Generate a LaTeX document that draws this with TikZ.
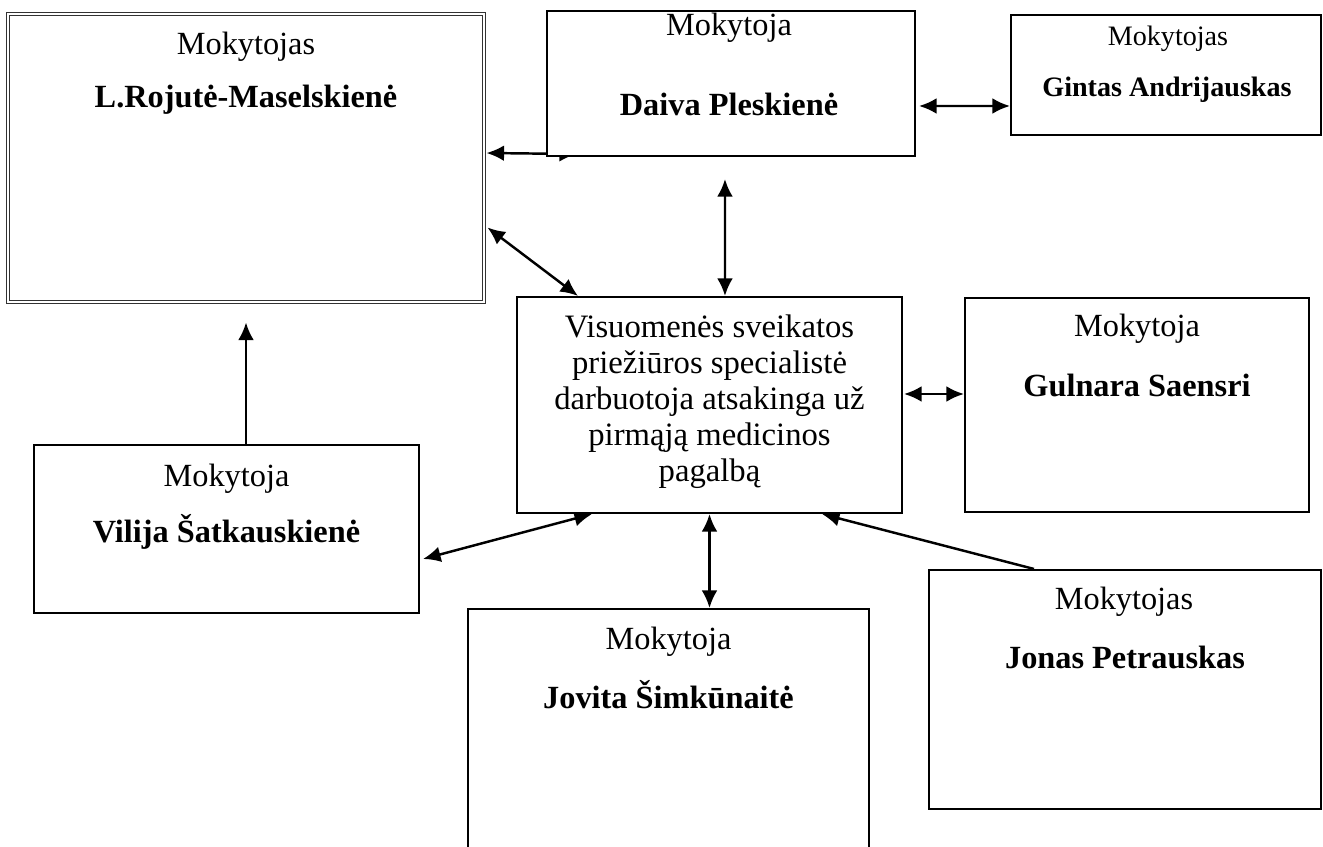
\documentclass[tikz,border=0pt]{standalone}
\usepackage{fontspec}
\setmainfont{Liberation Serif}
\usetikzlibrary{arrows.meta,calc,backgrounds}
\tikzset{>={Latex[length=10pt,width=9pt]}}
\tikzstyle{box}=[draw,line width=1.2pt,fill=white,inner sep=0pt]
\tikzstyle{dbox}=[draw=black!80,double,line width=0.6pt,double distance=0.7pt,fill=white,inner sep=0pt]
\tikzstyle{teacher}=[font=\fontsize{18.4}{21}\selectfont,inner sep=0pt]
\tikzstyle{person}=[font=\fontsize{18.4}{21}\selectfont\bfseries,inner sep=0pt]
\tikzstyle{link}=[line width=1.4pt]

\begin{document}
\begin{tikzpicture}[x=0.02cm,y=-0.02cm]
    \useasboundingbox (0,0) rectangle (1323,847);
    \clip (0,0) rectangle (1323,847);

    % boxes
    \node[dbox,minimum width=9.52cm,minimum height=5.76cm] (rojute) at (246,158) {};
    \node[box,minimum width=7.36cm,minimum height=2.9cm] (daiva) at (731,83.5) {};
    \node[box,minimum width=6.2cm,minimum height=2.4cm] (gintas) at (1166,75) {};
    \node[box,minimum width=7.7cm,minimum height=4.32cm] (central) at (709.5,405) {};
    \node[box,minimum width=6.88cm,minimum height=4.28cm] (gulnara) at (1137,405) {};
    \node[box,minimum width=7.7cm,minimum height=3.36cm] (vilija) at (226.5,529) {};
    \node[box,minimum width=8.02cm,minimum height=5.82cm] (jovita) at (668.5,754.5) {};
    \node[box,minimum width=7.84cm,minimum height=4.78cm] (jonas) at (1125,689.5) {};

    % texts
    \node[teacher] (rojuteRole) at (246,47) {Mokytojas};
    \node[person] (rojuteName) at (246,100) {L.Rojutė-Maselskienė};
    \node[teacher] (daivaRole) at (729,28) {Mokytoja};
    \node[person] (daivaName) at (729,104) {Daiva Pleskienė};
    \node[teacher,font=\fontsize{16}{19}\selectfont] (gintasRole) at (1168,39) {Mokytojas};
    \node[person,font=\fontsize{16}{19}\selectfont\bfseries] (gintasName) at (1167,90) {Gintas Andrijauskas};
    \node[teacher,align=center,font=\fontsize{18.6}{20.5}\selectfont] (centralText) at (709.5,402)
        {Visuomenės sveikatos\\ priežiūros specialistė\\ darbuotoja atsakinga už\\ pirmąją medicinos\\ pagalbą};
    \node[teacher] (gulnaraRole) at (1137,329) {Mokytoja};
    \node[person] (gulnaraName) at (1137,385) {Gulnara Saensri};
    \node[teacher] (vilijaRole) at (226.5,479) {Mokytoja};
    \node[person] (vilijaName) at (226.5,532) {Vilija Šatkauskienė};
    \node[teacher] (jovitaRole) at (668.5,642) {Mokytoja};
    \node[person] (jovitaName) at (668.5,695) {Jovita Šimkūnaitė};
    \node[teacher] (jonasRole) at (1124,602) {Mokytojas};
    \node[person] (jonasName) at (1125,657) {Jonas Petrauskas};

    % links
    \begin{pgfonlayer}{background}
    \draw[link,<->] ($(rojute.east)+(2,-5)$) -- ($(daiva.south west)+(31,-3)$);
    \draw[link,<->] ($(rojute.south east)+(3,-75)$) -- ($(central.north west)+(62,0)$);
    \draw[link,<->] ($(daiva.south west)+(179,22)$) -- ($(central.north west)+(209,0)$);
    \draw[link,<->] ($(daiva.east)+(3,22.5)$) -- ($(gintas.west)+(0,31)$);
    \draw[link,<->] ($(central.east)+(1,-11)$) -- ($(gulnara.west)+(0,-11)$);
    \draw[link,<->] (central.south) -- (central.south |- jovita.north);
    \draw[link,<->] ($(vilija.east)+(3,30)$) -- ($(central.south west)+(76,0)$);
    \draw[link,->] ($(jonas.north west)+(106,0)$) -- ($(central.south west)+(306,0)$);
    \draw[link,->] (vilija.north -| rojute.south) -- ($(rojute.south)+(0,20)$);
    \end{pgfonlayer}
\end{tikzpicture}
\end{document}
